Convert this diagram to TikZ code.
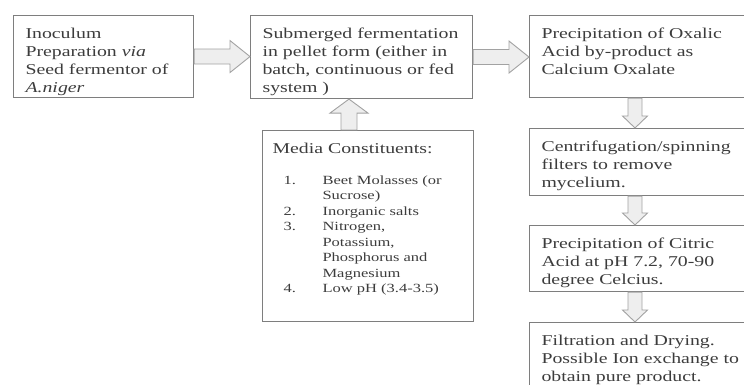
\documentclass[tikz,border=0pt]{standalone}
\usepackage{fontspec}
\setmainfont[FakeStretch=1.32]{Liberation Serif}
\usetikzlibrary{calc}

\definecolor{inkgray}{HTML}{3C3C3C}
\definecolor{boxgray}{HTML}{7E7E7E}
\definecolor{arrowline}{HTML}{A2A2A2}
\definecolor{arrowfill}{HTML}{EEEEEE}

% text of a box: height, width, lines
\newcommand{\boxtext}[3]{\parbox[c][#1][t]{#2}{\vspace*{12.5pt}\raggedright\leftskip=12pt #3\par}}

\begin{document}
\begin{tikzpicture}[x=1pt,y=1pt,semithick]
	  \tikzstyle{stage}=[draw=boxgray,line width=1.1pt,inner sep=0pt,anchor=north west,
	                     text=inkgray,font=\fontsize{15}{18}\selectfont]
	  \tikzstyle{blockarrow}=[draw=arrowline,fill=arrowfill,line width=0.9pt]
	  \tikzstyle{fat right}=[blockarrow,to path={let \p1=(\tikztostart), \p2=(\tikztotarget) in
	      (\x1,\y1+7.5pt) -- (\x2-20pt,\y1+7.5pt) -- (\x2-20pt,\y1+16pt) -- (\x2,\y1)
	      -- (\x2-20pt,\y1-16pt) -- (\x2-20pt,\y1-7.5pt) -- (\x1,\y1-7.5pt) -- cycle}]
	  \tikzstyle{fat down}=[blockarrow,to path={let \p1=(\tikztostart), \p2=(\tikztotarget) in
	      (\x1-7pt,\y1) -- (\x1-7pt,\y2+12pt) -- (\x1-12.5pt,\y2+12pt) -- (\x1,\y2)
	      -- (\x1+12.5pt,\y2+12pt) -- (\x1+7pt,\y2+12pt) -- (\x1+7pt,\y1) -- cycle}]
	  \tikzstyle{fat up}=[blockarrow,to path={let \p1=(\tikztostart), \p2=(\tikztotarget) in
	      (\x1-8pt,\y1) -- (\x1-8pt,\y2-14pt) -- (\x1-19pt,\y2-14pt) -- (\x1,\y2)
	      -- (\x1+19pt,\y2-14pt) -- (\x1+8pt,\y2-14pt) -- (\x1+8pt,\y1) -- cycle}]

	  \useasboundingbox (0,0) rectangle (744,385);
	  \clip (0,0) rectangle (744,385);

	  % top row
	  \node[stage] (inoc) at (13,370) {\boxtext{82pt}{180pt}{Inoculum\\ Preparation \textit{via}\\ Seed fermentor of\\ \textit{A.niger}}};
	  \node[stage] (subm) at (250,370) {\boxtext{83pt}{222pt}{Submerged fermentation\\ in pellet form (either in\\ batch, continuous or fed\\ system )}};
	  \node[stage] (oxal) at (529,370) {\boxtext{82pt}{230pt}{Precipitation of Oxalic\\ Acid by-product as\\ Calcium Oxalate}};

	  % right column
	  \node[stage] (centr) at (529,257) {\boxtext{67pt}{230pt}{Centrifugation/spinning\\ filters to remove\\ mycelium.}};
	  \node[stage] (citr) at (529,160) {\boxtext{66pt}{230pt}{Precipitation of Citric\\ Acid at pH 7.2, 70-90\\ degree Celcius.}};
	  \node[stage] (filt) at (529,63) {\boxtext{75pt}{230pt}{Filtration and Drying.\\ Possible Ion exchange to\\ obtain pure product.}};

	  % media
	  \node[stage] (media) at (262,255) {\parbox[c][191pt][t]{211pt}{\vspace*{12.5pt}\raggedright\leftskip=10pt
	      Media Constituents:\par
	      \fontsize{12.5}{15.5}\selectfont\vspace{15.5pt}\leftskip=21pt
	      \makebox[39pt][l]{1.}Beet Molasses (or\\ \hspace*{39pt}Sucrose)\\
	      \makebox[39pt][l]{2.}Inorganic salts\\
	      \makebox[39pt][l]{3.}Nitrogen,\\ \hspace*{39pt}Potassium,\\ \hspace*{39pt}Phosphorus and\\ \hspace*{39pt}Magnesium\\
	      \makebox[39pt][l]{4.}Low pH (3.4-3.5)\par}};

	  \path (inoc.east) edge[fat right] (subm.west)
	        (subm.east) edge[fat right] (oxal.west)
	        ([xshift=106pt]oxal.south west) edge[fat down] ([xshift=106pt]centr.north west)
	        ([xshift=106pt]centr.south west) edge[fat down] ([xshift=106pt]citr.north west)
	        ([xshift=106pt]citr.south west) edge[fat down] ([xshift=106pt]filt.north west)
	        ([xshift=87pt]media.north west) edge[fat up] ([xshift=99pt]subm.south west);
	\end{tikzpicture}
\end{document}
